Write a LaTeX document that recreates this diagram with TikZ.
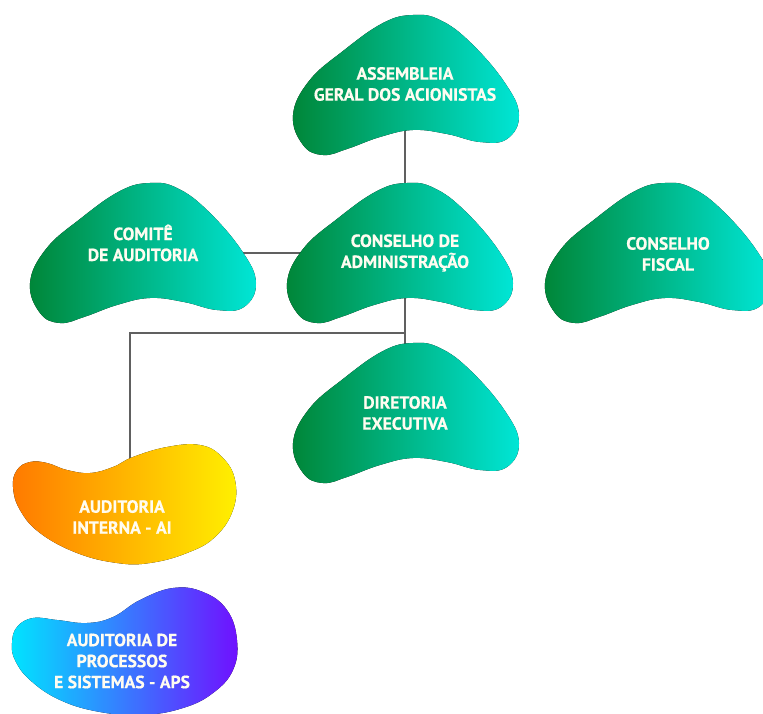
\documentclass[tikz,border=0pt]{standalone}
\usepackage{fontspec}
\setmainfont{PT Sans}[BoldFeatures={FakeBold=0.6}]
\usetikzlibrary{backgrounds}

\definecolor{greenL}{RGB}{0,134,56}
\definecolor{greenR}{RGB}{0,230,214}
\definecolor{orangeL}{RGB}{255,122,0}
\definecolor{orangeR}{RGB}{255,240,0}
\definecolor{violetL}{RGB}{0,228,255}
\definecolor{violetR}{RGB}{112,16,255}
\definecolor{txtwhite}{RGB}{255,252,240}
\definecolor{linkgray}{RGB}{96,96,96}

\tikzset{
  blobtext/.style={text=txtwhite, align=center,
    font=\bfseries\fontsize{17.6}{21}\selectfont},
  link/.style={draw=linkgray, line width=1.6pt},
  greenfill/.style={left color=greenL, right color=greenR},
}

\begin{document}
\begin{tikzpicture}[x=1pt,y=-1pt]
  \useasboundingbox (0,0) rectangle (763,714);

  % green blobs, top-left corners
  \foreach \bx/\by in {293/15, 30/183, 287/183, 545/183, 293/343}
  {
    \fill[greenfill, shift={(\bx,\by)}] plot[smooth cycle, tension=0.7] coordinates
      {(0,100) (10,130) (30,140) (54,134) (87,122) (120,115) (154,119)
       (187,127) (214,124) (226,100) (212,68) (178,28) (147,5) (120,0)
       (90,8) (50,36) (16,66)};
  }

  % auditoria interna
  \fill[left color=orangeL, right color=orangeR, shift={(12,445)}]
    plot[smooth cycle, tension=0.7] coordinates
    {(1,42) (5,25) (18,17) (35,18) (55,25) (78,28) (101,22) (121,12)
     (155,2) (188,0) (210,12) (223,35) (221,65) (203,92) (175,108)
     (138,118) (105,118) (65,108) (28,88) (8,65)};

  % auditoria de processos
  \fill[left color=violetL, right color=violetR, shift={(12,588)}]
    plot[smooth cycle, tension=0.7] coordinates
    {(0,55) (5,39) (21,30) (45,32) (75,35) (101,29) (128,12) (161,0)
     (191,4) (215,22) (225,52) (221,82) (201,105) (171,120) (131,127)
     (88,124) (48,112) (18,92) (3,72)};

  \node[blobtext] (assembleia) at (405,84) {ASSEMBLEIA\\GERAL DOS ACIONISTAS};
  \node[blobtext] (comite) at (143,243) {COMITÊ\\DE AUDITORIA};
  \node[blobtext] (conselho) at (405,253) {CONSELHO DE\\ADMINISTRAÇÃO};
  \node[blobtext] (fiscal) at (668,254) {CONSELHO\\FISCAL};
  \node[blobtext] (diretoria) at (405,413) {DIRETORIA\\EXECUTIVA};
  \node[blobtext] (interna) at (122,517) {AUDITORIA\\INTERNA - AI};
  \node[blobtext] (processos) at (122,661) {AUDITORIA DE\\PROCESSOS\\E SISTEMAS - APS};

  \coordinate (split) at (405,333);
  \coordinate (internatop) at (130,480);

  \begin{scope}[on background layer]
    \draw[link] (assembleia) -- (conselho);
    \draw[link] (conselho) -- (conselho -| comite);
    \draw[link] (conselho) -- (diretoria);
    \draw[link] (split) -| (internatop);
  \end{scope}
\end{tikzpicture}
\end{document}
